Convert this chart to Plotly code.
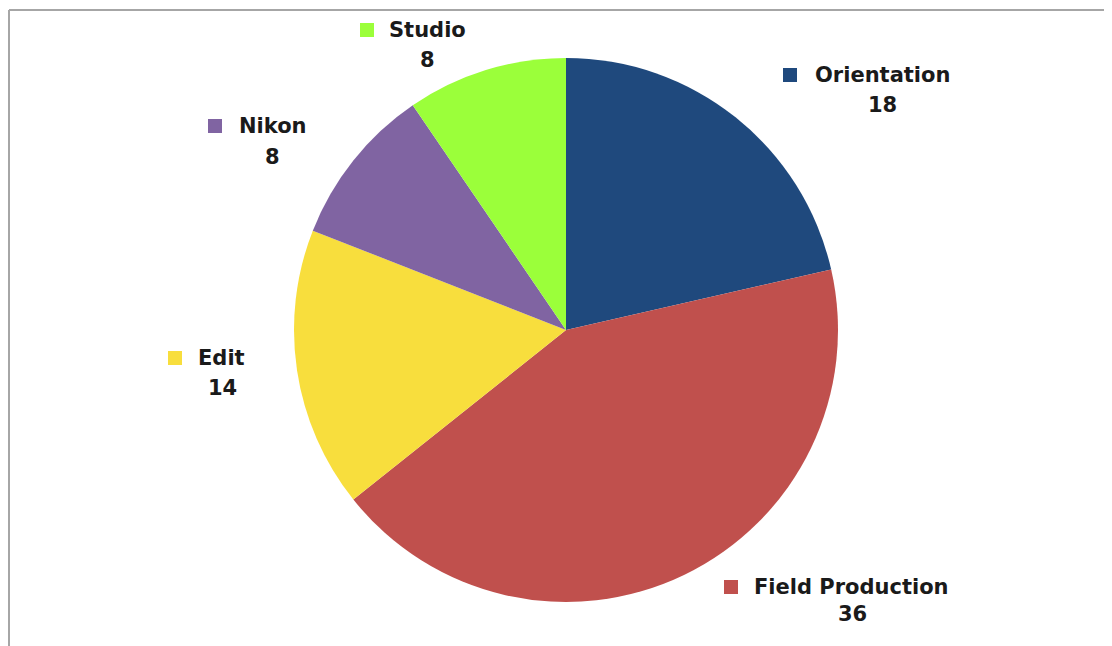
import plotly.graph_objects as go

categories = ["Orientation", "Field Production", "Edit", "Nikon", "Studio"]
values = [18, 36, 14, 8, 8]
colors = ["#1F497D", "#C0504D", "#F8DE3D", "#8064A2", "#9BFF3A"]

W, H = 1112, 646
OFF = 8  # page body margin in the browser

def px(x):
    return (x - OFF) / W

def py(y):
    return 1 - (y - OFF) / H

cx, cy, r = 566, 330, 272
fig = go.Figure(go.Pie(
    labels=categories,
    values=values,
    sort=False,
    direction="clockwise",
    rotation=0,
    marker=dict(colors=colors, line=dict(width=0)),
    textinfo="none",
    hoverinfo="label+value",
    showlegend=False,
    domain=dict(x=[px(cx - 340), px(cx + 340)], y=[py(cy + r), py(cy - r)]),
))

# label placements (pixel positions of name centre, value centre, square centre)
label_pos = {
    "Orientation": ((882, 75), (882, 105), (790, 75)),
    "Field Production": ((851, 587), (852, 614), (731, 587)),
    "Edit": ((221, 358), (222, 388), (175, 358)),
    "Nikon": ((273, 126), (272, 157), (215, 126)),
    "Studio": ((427, 30), (427, 60), (367, 30)),
}

annotations = []
shapes = []
fnt = dict(family="DejaVu Sans", size=21, color="#1a1a1a")
for cat, val, col in zip(categories, values, colors):
    (nx, ny), (vx, vy), (sx, sy) = label_pos[cat]
    annotations.append(dict(x=px(nx), y=py(ny), xref="paper", yref="paper",
                            text=f"<b>{cat}</b>", showarrow=False, font=fnt,
                            xanchor="center", yanchor="middle"))
    annotations.append(dict(x=px(vx), y=py(vy), xref="paper", yref="paper",
                            text=f"<b>{val}</b>", showarrow=False, font=fnt,
                            xanchor="center", yanchor="middle"))
    shapes.append(dict(type="rect", xref="paper", yref="paper",
                       xsizemode="pixel", ysizemode="pixel",
                       xanchor=px(sx), yanchor=py(sy),
                       x0=-7, x1=7, y0=-7, y1=7,
                       fillcolor=col, line=dict(width=0)))

# frame lines (top and left)
shapes.append(dict(type="line", xref="paper", yref="paper",
                   x0=px(9), x1=1, y0=py(10), y1=py(10),
                   line=dict(color="#a6a6a6", width=2)))
shapes.append(dict(type="line", xref="paper", yref="paper",
                   x0=px(9), x1=px(9), y0=py(10), y1=0,
                   line=dict(color="#a6a6a6", width=2)))

fig.update_layout(
    width=W, height=H,
    margin=dict(l=0, r=0, t=0, b=0),
    paper_bgcolor="white",
    plot_bgcolor="white",
    annotations=annotations,
    shapes=shapes,
)

fig.write_html("out.html")
